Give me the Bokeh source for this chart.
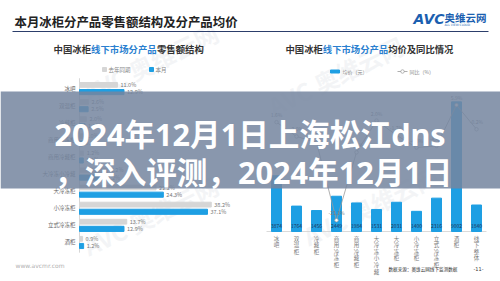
from bokeh.plotting import figure
from bokeh.models import Range1d, ColumnDataSource
from bokeh.embed import file_html
from bokeh.resources import INLINE
from bokeh.core.properties import value
import numpy as np

# ---------------- data ----------------
left_cats = ["冰吧", "双温柜", "冷藏柜", "商用冷冻柜", "商用冷藏柜", "大冷冻小冷藏",
             "大冷冻柜", "小冷冻柜", "立式冷冻柜", "酒柜"]
left_last = [11.0, 2.6, 2.0, 1.0, 1.2, 8.2, 22.2, 38.2, 13.7, 0.9]   # 去年同期 (%)
left_this = [12.9, 2.5, 1.6, 0.9, 1.1, 7.2, 24.3, 37.1, 12.9, 1.2]   # 本月 (%)

right_cats = ["冰吧", "双温柜", "冷藏柜", "商用冷冻柜", "商用冷藏柜", "大冷冻小冷藏",
              "大冷冻柜", "小冷冻柜", "立式冷冻柜", "酒柜", "线下整体"]
right_price = [3874, 1764, 1456, 2449, 1984, 1531, 2031, 1400, 2316, 9002, 1840]  # 均价（元）
right_yoy = [1.6, -2.0, -3.5, -23.1, -6.0, 2.0, -1.7, -4.8, -4.4, 5.9, -0.2]      # 同比（%）

W, H = 500, 281
FONT = "Noto Sans CJK SC"
BLUE = "#1e9fe3"
GRAY = "#d6d6d6"

p = figure(width=W, height=H, output_backend="svg", toolbar_location=None,
           x_range=Range1d(0, W), y_range=Range1d(H, 0), min_border=0,
           x_axis_location=None, y_axis_location=None,
           background_fill_color="white", border_fill_color="white",
           outline_line_color=None)
p.grid.visible = False

# left chart scales: 0% at x=79px, 3.45 px per %; rows 88px + 17.1px*i
LX0, LXK = 79, 3.45
LY0, LYK = 88, 17.1
# right chart scales: categories at 276px + 20px*i; bars base at 231px, 0.0144 px/yuan
RX0, RXK = 276, 20
RB0, RBK = 231, 0.0144
RL0, RLK = 128, 3.97
p.extra_x_ranges = {
    "lx": Range1d(-LX0 / LXK, (W - LX0) / LXK),
    "rx": Range1d(-RX0 / RXK, (W - RX0) / RXK),
}
p.extra_y_ranges = {
    "ly": Range1d((H - LY0) / LYK, -LY0 / LYK),
    "ry": Range1d(-(H - RB0) / RBK, RB0 / RBK),
    "ry2": Range1d(-(H - RL0) / RLK, RL0 / RLK),
}


def txt(x, y, s, size, color="#333333", align="left", baseline="middle",
        style="normal", font=FONT, angle=0.0, alpha=1.0, **kw):
    p.text(x=[x], y=[y], text=[s], text_font=value(font),
           text_font_size=value(f"{size}px"), text_color=color,
           text_align=align, text_baseline=baseline, text_font_style=style,
           angle=angle, text_alpha=alpha, **kw)


# ---------------- watermarks ----------------
for (wx, wy) in [(150, 62), (335, 75), (150, 215), (370, 205)]:
    txt(wx, wy, "AVC 奥维云网", 24, color="#cfd6de", align="center",
        style="bold", angle=0.45, alpha=0.25)

# ---------------- header ----------------
txt(14, 21, "本月冰柜分产品零售额结构及分产品均价", 12.4, color="#222222", style="bold")
p.segment(x0=[12], y0=[31], x1=[488], y1=[31], line_color="#2c3e6b", line_width=1)
txt(413, 18, "AVC", 14, color="#1b5fb0", style="bold italic", font="DejaVu Sans")
txt(444, 17, "奥维云网", 10.5, color="#1b5fb0", style="bold")
txt(444, 24, "ALL VIEW CLOUD", 3, color="#1b5fb0", font="DejaVu Sans")

# subtitles (three coloured pieces each)
fs = 9.4
txt(53, 48, "中国冰柜", fs, color="#333333", style="bold")
txt(53 + 4 * fs, 48, "线下市场分产品", fs, color="#2a7fd0", style="bold")
txt(53 + 11 * fs, 48, "零售额结构", fs, color="#333333", style="bold")
fs2 = 9.33
txt(285, 48, "中国冰柜", fs2, color="#333333", style="bold")
txt(285 + 4 * fs2, 48, "线下市场分产品", fs2, color="#2a7fd0", style="bold")
txt(285 + 11 * fs2, 48, "均价及同比情况", fs2, color="#333333", style="bold")

# ---------------- left chart ----------------
li = np.arange(len(left_cats))
lsrc = ColumnDataSource(dict(
    y_last=li - 0.21, y_this=li + 0.21, last=left_last, this=left_this,
    cat=left_cats, idx=li,
    last_lab=[f"{v:.1f}%" for v in left_last],
    this_lab=[f"{v:.1f}%" for v in left_this]))
p.segment(x0=[0], y0=[-0.6], x1=[0], y1=[len(left_cats) - 0.4], x_range_name="lx",
          y_range_name="ly", line_color="#cccccc", line_width=0.8)
p.hbar(y="y_last", left=0, right="last", height=0.28, source=lsrc, color=GRAY,
       x_range_name="lx", y_range_name="ly")
p.hbar(y="y_this", left=0, right="this", height=0.3, source=lsrc, color=BLUE,
       x_range_name="lx", y_range_name="ly")
p.text(x=0, y="idx", text="cat", source=lsrc, x_offset=-4, text_align="right",
       text_baseline="middle", text_font=value(FONT), text_font_size=value("5.5px"),
       text_color="#666666", x_range_name="lx", y_range_name="ly")
p.text(x="last", y="y_last", text="last_lab", source=lsrc, x_offset=3,
       text_baseline="middle", text_font=value(FONT), text_font_size=value("5.5px"),
       text_color="#777777", x_range_name="lx", y_range_name="ly")
p.text(x="this", y="y_this", text="this_lab", source=lsrc, x_offset=3,
       text_baseline="middle", text_font=value(FONT), text_font_size=value("5.5px"),
       text_color="#777777", x_range_name="lx", y_range_name="ly")

# left legend
p.scatter(x=[104], y=[69], marker="square", size=4, color=GRAY)
txt(108, 69, "去年同期", 5.5, color="#888888")
p.scatter(x=[151], y=[69], marker="square", size=4, color=BLUE)
txt(155, 69, "本月", 5.5, color="#888888")
txt(15, 265, "www.avcmr.com", 6, color="#b0b0b0", font="DejaVu Sans")

# ---------------- right chart ----------------
ri = np.arange(len(right_cats))
rsrc = ColumnDataSource(dict(
    x=ri, price=right_price, yoy=right_yoy,
    price_lab=[str(v) for v in right_price],
    yoy_lab=[f"{v:.1f}%" for v in right_yoy],
    vcat=["\n".join(c) for c in right_cats]))
p.segment(x0=[-0.5], y0=[0], x1=[len(right_cats) - 0.5], y1=[0], x_range_name="rx",
          y_range_name="ry", line_color="#d0d0d0", line_width=0.8)
p.vbar(x="x", top="price", bottom=0, width=0.5, source=rsrc, color=BLUE,
       x_range_name="rx", y_range_name="ry")
p.text(x="x", y=0, text="price_lab", source=rsrc, y_offset=-4, text_align="center",
       text_baseline="bottom", text_font=value(FONT), text_font_size=value("5px"),
       text_color="#1d3557", x_range_name="rx", y_range_name="ry")
p.text(x="x", y=0, text="vcat", source=rsrc, y_offset=3, text_align="center",
       text_baseline="top", text_font=value(FONT), text_font_size=value("5.5px"),
       text_line_height=0.83, text_color="#777777", x_range_name="rx",
       y_range_name="ry")
p.line(x="x", y="yoy", source=rsrc, line_color="#9a9a9a", line_width=0.8,
       x_range_name="rx", y_range_name="ry2")
p.scatter(x="x", y="yoy", source=rsrc, marker="circle", size=3.5,
          fill_color="white", line_color="#9a9a9a", line_width=0.7,
          x_range_name="rx", y_range_name="ry2")
p.text(x="x", y="yoy", text="yoy_lab", source=rsrc, y_offset=-4, text_align="center",
       text_baseline="bottom", text_font=value(FONT), text_font_size=value("5px"),
       text_color="#777777", x_range_name="rx", y_range_name="ry2")

# right legend
p.quad(left=[330], right=[339], top=[69.5], bottom=[72.5], color=BLUE)
txt(342, 71, "均价（元）", 5, color="#888888")
p.segment(x0=[397], y0=[71], x1=[407], y1=[71], line_color="#9a9a9a", line_width=0.8)
p.scatter(x=[402], y=[71], marker="circle", size=3.5, fill_color="white",
          line_color="#9a9a9a", line_width=0.7)
txt(409, 71, "同比（%）", 5, color="#888888")

txt(388, 268, "数据来源：奥维云网线下监测数据", 4.6, color="#333333")
txt(473, 268, "-11-", 5, color="#333333", font="DejaVu Sans")

# ---------------- overlay band with title ----------------
p.quad(left=[0], right=[W], top=[91], bottom=[188], fill_color="#76869f",
       fill_alpha=0.86, line_color=None)
TFONT = "Noto Sans, Noto Sans CJK SC"
txt(54, 133, "2024年12月1日上海松江dns", 30.6, color="white", baseline="alphabetic",
    style="bold", font=TFONT)
txt(54, 171, "，深入评测，2024年12月1日", 30.6, color="white", baseline="alphabetic",
    style="bold", font=TFONT)

open("out.html", "w").write(file_html(p, INLINE))
